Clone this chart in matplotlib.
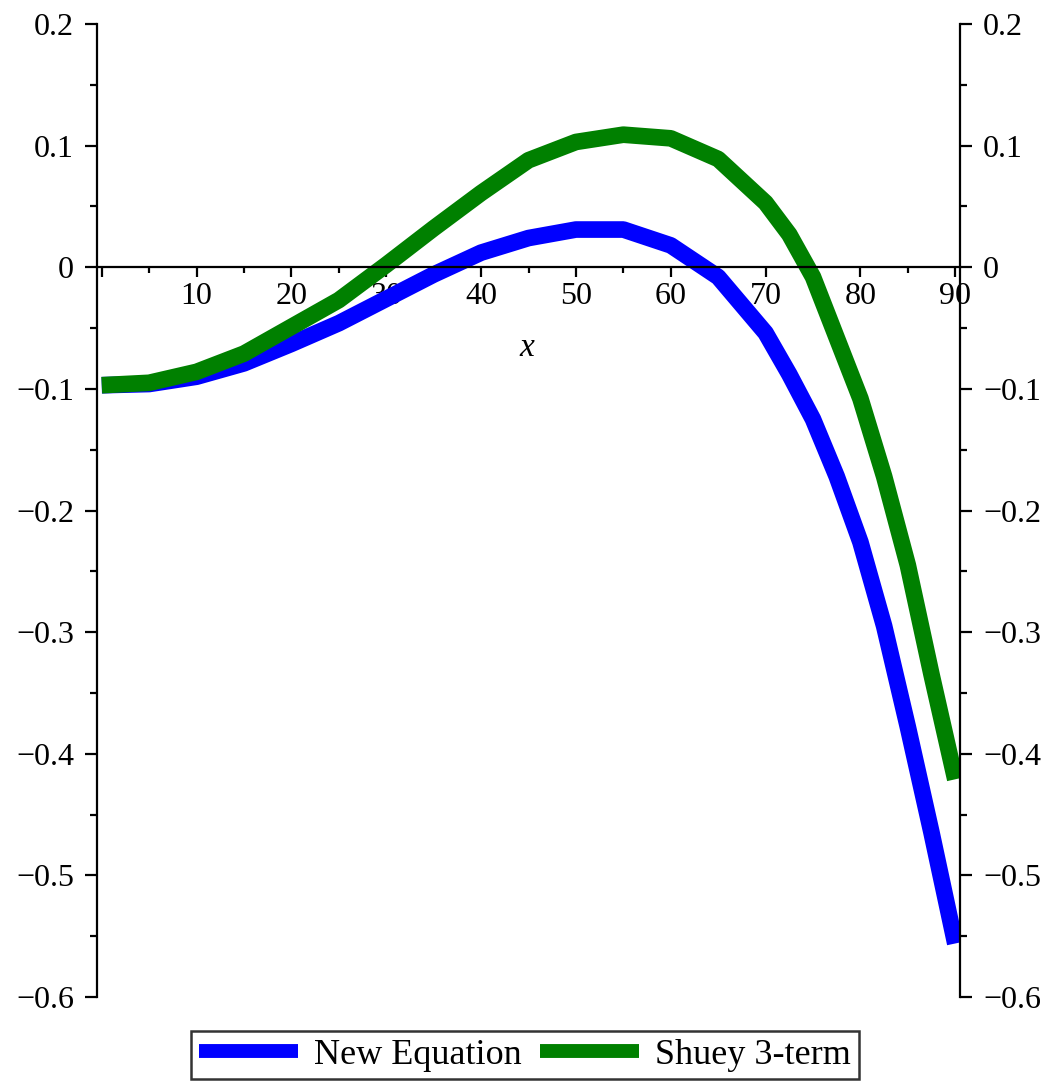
import matplotlib
matplotlib.use("Agg")
import matplotlib.pyplot as plt
from matplotlib.ticker import MultipleLocator, FixedLocator

plt.rcParams['font.family'] = ['Liberation Serif', 'DejaVu Serif']

angles = [0, 5, 10, 15, 20, 25, 30, 35, 40, 45, 50, 55, 60, 65, 70, 72.5, 75, 77.5, 80, 82.5, 85, 87.5, 90]
new_equation = [-0.097, -0.096, -0.090, -0.079, -0.063, -0.046, -0.026, -0.006, 0.012, 0.024, 0.031, 0.031,
                0.018, -0.008, -0.054, -0.088, -0.125, -0.172, -0.226, -0.295, -0.378, -0.465, -0.556]
shuey_3term = [-0.097, -0.095, -0.086, -0.071, -0.049, -0.027, 0.002, 0.032, 0.061, 0.088, 0.103, 0.109,
               0.106, 0.089, 0.053, 0.027, -0.008, -0.058, -0.108, -0.172, -0.245, -0.335, -0.421]
series_labels = ["New Equation", "Shuey 3-term"]
x_ticks = [0, 10, 20, 30, 40, 50, 60, 70, 80, 90]
x_ticklabels = ["", "10", "20", "30", "40", "50", "60", "70", "80", "90"]
y_ticks = [-0.6, -0.5, -0.4, -0.3, -0.2, -0.1, 0, 0.1, 0.2]
y_ticklabels = ["\u22120.6", "\u22120.5", "\u22120.4", "\u22120.3", "\u22120.2", "\u22120.1", "0", "0.1", "0.2"]

fig = plt.figure(figsize=(10.5, 10.84), dpi=100)
ax = fig.add_axes([97/1050, 1 - 997/1084, 863/1050, 973/1084])

l1, = ax.plot(angles, new_equation, color=(0, 0, 1), lw=12, solid_capstyle='butt', solid_joinstyle='round')
l2, = ax.plot(angles, shuey_3term, color=(0, 0.5, 0), lw=12, solid_capstyle='butt', solid_joinstyle='round')

ax.set_xlim(-0.5, 90.5)
ax.set_ylim(-0.6, 0.2)

ax.spines['top'].set_visible(False)
ax.spines['bottom'].set_position(('data', 0))
for s in ['left', 'right', 'bottom']:
    ax.spines[s].set_linewidth(1.6)
    ax.spines[s].set_color('black')

ax.xaxis.set_major_locator(FixedLocator(x_ticks))
ax.set_xticklabels(x_ticklabels)
ax.xaxis.set_minor_locator(MultipleLocator(5))
ax.yaxis.set_major_locator(FixedLocator(y_ticks))
ax.set_yticklabels(y_ticklabels)
ax.yaxis.set_minor_locator(MultipleLocator(0.05))

ax.tick_params(axis='x', which='major', direction='out', length=7.2, width=1.6, labelsize=23, pad=3.5)
ax.tick_params(axis='x', which='minor', direction='out', length=4.5, width=1.6)
ax.tick_params(axis='y', which='major', direction='out', length=8.6, width=1.6, labelsize=23, pad=8,
               left=True, right=True, labelleft=True, labelright=True)
ax.tick_params(axis='y', which='minor', direction='out', length=5, width=1.6, left=True, right=True)

ax.text((527 - 97) / 863, (997 - 348) / 973, "x", transform=ax.transAxes, fontsize=24,
        style='italic', ha='center', va='center')

leg = fig.legend([l1, l2], series_labels, loc='center', bbox_to_anchor=(525/1050, 1 - 1055/1084),
                 ncol=2, fontsize=26, frameon=True, fancybox=False, handlelength=2.75,
                 handletextpad=0.45, columnspacing=0.5, borderpad=0.2, borderaxespad=0)
leg.get_frame().set_edgecolor('black')
leg.get_frame().set_linewidth(1.8)
for h in leg.get_lines():
    h.set_linewidth(10)

fig.savefig("out.png", dpi=100)
